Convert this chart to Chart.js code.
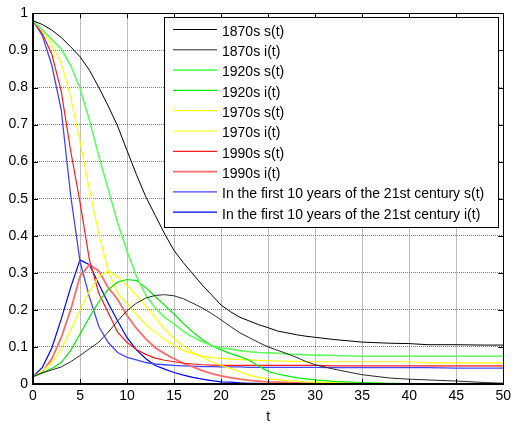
<!DOCTYPE html>
<html>
<head>
<meta charset="utf-8">
<script src="https://cdn.jsdelivr.net/npm/chart.js@4.4.0/dist/chart.umd.min.js"></script>
<style>
  body { margin: 0; background: #fff; }
  #wrap { width: 515px; height: 423px; }
</style>
</head>
<body>
<div id="wrap"><canvas id="myChart1"></canvas></div>
<script>
  // time steps (t)
  const tVals = [0, 1, 2, 3, 4, 5, 6, 7, 8, 9, 10, 11, 12, 13, 14, 15, 16, 17, 18, 19, 20,
    21, 22, 23, 24, 25, 26, 27, 28, 29, 30, 32, 35, 38, 40, 42, 45, 48, 50];

  // series values
  const s1870 = [0.98, 0.97, 0.955, 0.935, 0.91, 0.883, 0.847, 0.80, 0.75, 0.696, 0.63, 0.565, 0.505, 0.455, 0.405, 0.36, 0.327, 0.297, 0.267, 0.24, 0.213,
    0.195, 0.18, 0.17, 0.16, 0.152, 0.143, 0.138, 0.133, 0.129, 0.126, 0.12, 0.113, 0.11, 0.109, 0.106, 0.106, 0.105, 0.105];
  const i1870 = [0.02, 0.03, 0.038, 0.046, 0.06, 0.077, 0.095, 0.113, 0.14, 0.17, 0.198, 0.218, 0.232, 0.239, 0.241, 0.238, 0.23, 0.218, 0.205, 0.19, 0.173,
    0.155, 0.138, 0.125, 0.112, 0.10, 0.091, 0.082, 0.072, 0.061, 0.052, 0.04, 0.025, 0.016, 0.013, 0.011, 0.008, 0.004, 0.002];
  const s1920 = [0.98, 0.955, 0.93, 0.904, 0.86, 0.798, 0.712, 0.615, 0.525, 0.435, 0.358, 0.29, 0.24, 0.205, 0.18, 0.162, 0.142, 0.127, 0.114, 0.104, 0.098,
    0.094, 0.09, 0.087, 0.085, 0.084, 0.083, 0.081, 0.08, 0.079, 0.078, 0.077, 0.075, 0.075, 0.075, 0.075, 0.075, 0.075, 0.075];
  const i1920 = [0.02, 0.03, 0.042, 0.058, 0.09, 0.135, 0.18, 0.222, 0.255, 0.275, 0.282, 0.279, 0.26, 0.236, 0.212, 0.189, 0.163, 0.14, 0.12, 0.104, 0.092,
    0.082, 0.074, 0.064, 0.048, 0.034, 0.027, 0.022, 0.017, 0.014, 0.011, 0.007, 0.004, 0.002, 0.001, 0.001, 0, 0, 0];
  const s1970 = [0.98, 0.955, 0.915, 0.865, 0.775, 0.655, 0.525, 0.405, 0.305, 0.245, 0.216, 0.188, 0.16, 0.14, 0.12, 0.105, 0.09, 0.082, 0.075, 0.071, 0.069,
    0.067, 0.066, 0.065, 0.064, 0.063, 0.062, 0.061, 0.061, 0.06, 0.06, 0.06, 0.06, 0.06, 0.06, 0.057, 0.057, 0.057, 0.057];
  const i1970 = [0.02, 0.035, 0.058, 0.094, 0.145, 0.2, 0.25, 0.29, 0.305, 0.29, 0.265, 0.24, 0.21, 0.18, 0.148, 0.122, 0.102, 0.085, 0.072, 0.06, 0.05,
    0.042, 0.033, 0.024, 0.018, 0.014, 0.012, 0.009, 0.008, 0.006, 0.005, 0.004, 0.002, 0.001, 0.001, 0, 0, 0, 0];
  const s1990 = [0.98, 0.945, 0.89, 0.79, 0.63, 0.49, 0.335, 0.245, 0.192, 0.14, 0.112, 0.093, 0.08, 0.07, 0.064, 0.06, 0.056, 0.054, 0.052, 0.051, 0.05,
    0.05, 0.05, 0.05, 0.05, 0.05, 0.05, 0.05, 0.05, 0.05, 0.05, 0.049, 0.049, 0.049, 0.049, 0.049, 0.049, 0.049, 0.049];
  const i1990 = [0.02, 0.033, 0.068, 0.125, 0.2, 0.29, 0.322, 0.305, 0.26, 0.228, 0.185, 0.15, 0.122, 0.098, 0.082, 0.068, 0.056, 0.046, 0.036, 0.028, 0.022,
    0.017, 0.013, 0.01, 0.008, 0.006, 0.005, 0.004, 0.003, 0.002, 0.002, 0.001, 0.001, 0, 0, 0, 0, 0, 0];
  const s2000 = [0.98, 0.94, 0.86, 0.74, 0.51, 0.33, 0.235, 0.155, 0.112, 0.085, 0.072, 0.065, 0.058, 0.054, 0.052, 0.05, 0.049, 0.048, 0.047, 0.047, 0.046,
    0.046, 0.046, 0.045, 0.045, 0.045, 0.045, 0.045, 0.045, 0.045, 0.045, 0.044, 0.044, 0.044, 0.044, 0.044, 0.043, 0.043, 0.043];
  const i2000 = [0.02, 0.045, 0.097, 0.175, 0.26, 0.335, 0.322, 0.27, 0.218, 0.17, 0.125, 0.092, 0.068, 0.05, 0.04, 0.031, 0.024, 0.018, 0.013, 0.009, 0.006,
    0.005, 0.003, 0.002, 0.002, 0.001, 0.001, 0, 0, 0, 0, 0, 0, 0, 0, 0, 0, 0, 0];

  const seriesLabels = ['1870s s(t)', '1870s i(t)', '1920s s(t)', '1920s i(t)', '1970s s(t)', '1970s i(t)',
    '1990s s(t)', '1990s i(t)', 'In the first 10 years of the 21st century s(t)', 'In the first 10 years of the 21st century i(t)'];
  const seriesValues = [s1870, i1870, s1920, i1920, s1970, i1970, s1990, i1990, s2000, i2000];
  const seriesColors = ['#000000', '#2a2a2a', '#5cff5c', '#00f000', '#ffff00', '#ffff00', '#ff1a1a', '#ff6a6a', '#4444ff', '#0000ff'];
  const seriesWidths = [1, 1, 1.6, 1.2, 1.2, 1.2, 1.2, 1.8, 1.3, 1.2];

  const FONT = '"Liberation Sans", Arial, sans-serif';

  const datasets = seriesLabels.map((lab, k) => ({
    label: lab,
    data: tVals.map((t, j) => ({ x: t, y: seriesValues[k][j] })),
    borderColor: seriesColors[k],
    backgroundColor: seriesColors[k],
    borderWidth: seriesWidths[k],
    pointRadius: 0,
    tension: 0,
    fill: false
  }));

  // box legend inside the plot, plus matlab style frame with inner ticks
  const frameAndLegend = {
    id: 'frameAndLegend',
    afterDatasetsDraw(chart) {
      const { ctx, chartArea: a, scales: { x, y } } = chart;
      ctx.save();
      ctx.strokeStyle = '#000';
      ctx.lineWidth = 1;
      ctx.beginPath();
      x.ticks.forEach(tk => {
        const px = Math.round(x.getPixelForValue(tk.value)) + 0.5;
        ctx.moveTo(px, a.bottom); ctx.lineTo(px, a.bottom - 5);
        ctx.moveTo(px, a.top); ctx.lineTo(px, a.top + 5);
      });
      y.ticks.forEach(tk => {
        const py = Math.round(y.getPixelForValue(tk.value)) + 0.5;
        ctx.moveTo(a.left, py); ctx.lineTo(a.left + 5, py);
        ctx.moveTo(a.right, py); ctx.lineTo(a.right - 5, py);
      });
      ctx.stroke();
      // frame
      ctx.strokeRect(Math.round(a.left) + 0.5, Math.round(a.top) + 0.5, Math.round(a.right - a.left), Math.round(a.bottom - a.top));
      ctx.lineWidth = 2;
      ctx.beginPath();
      ctx.moveTo(Math.round(a.left), Math.round(a.top));
      ctx.lineTo(Math.round(a.left), Math.round(a.bottom));
      ctx.lineTo(Math.round(a.right) + 1, Math.round(a.bottom));
      ctx.stroke();

      // legend box
      const bx = 164, by = 17, bw = 334, bh = 210;
      ctx.fillStyle = '#fff';
      ctx.fillRect(bx, by, bw, bh);
      ctx.lineWidth = 1;
      ctx.strokeStyle = '#000';
      ctx.strokeRect(bx + 0.5, by + 0.5, bw, bh);
      ctx.font = '14px ' + FONT;
      ctx.textBaseline = 'middle';
      ctx.textAlign = 'left';
      chart.data.datasets.forEach((ds, k) => {
        const cy = by + 15 + k * 20.3;
        ctx.strokeStyle = ds.borderColor;
        ctx.lineWidth = ds.borderWidth;
        ctx.beginPath();
        ctx.moveTo(173, cy - 2.5);
        ctx.lineTo(217, cy - 2.5);
        ctx.stroke();
        ctx.fillStyle = '#000';
        ctx.fillText(ds.label, 222, cy);
      });
      ctx.restore();
    }
  };

  const config1 = {
    type: 'line',
    data: { datasets },
    options: {
      responsive: true,
      maintainAspectRatio: false,
      animation: false,
      layout: { padding: { left: 0, right: 8, top: 10, bottom: 0 } },
      plugins: {
        legend: { display: false },
        tooltip: { enabled: false }
      },
      scales: {
        x: {
          type: 'linear',
          min: 0,
          max: 50,
          ticks: { stepSize: 5, color: '#000', font: { family: FONT, size: 14 }, padding: 4, maxRotation: 0 },
          grid: { color: 'rgba(70,70,70,0.7)', drawTicks: false },
          border: { display: false, dash: [1, 1] },
          title: { display: true, text: 't', color: '#000', font: { family: FONT, size: 14 }, padding: { top: 0, bottom: -3 } },
          afterFit(scale) { scale.height = 39; }
        },
        y: {
          type: 'linear',
          min: 0,
          max: 1,
          ticks: {
            stepSize: 0.1, color: '#000', font: { family: FONT, size: 14 }, padding: 5,
            callback: v => String(+v.toFixed(1))
          },
          grid: { color: 'rgba(70,70,70,0.7)', drawTicks: false },
          border: { display: false, dash: [1, 1] },
          afterFit(scale) { scale.width = 33; }
        }
      }
    },
    plugins: [frameAndLegend]
  };

  const ctx = document.getElementById('myChart1').getContext('2d');
  const myChart1 = new Chart(ctx, config1);
</script>
</body>
</html>
